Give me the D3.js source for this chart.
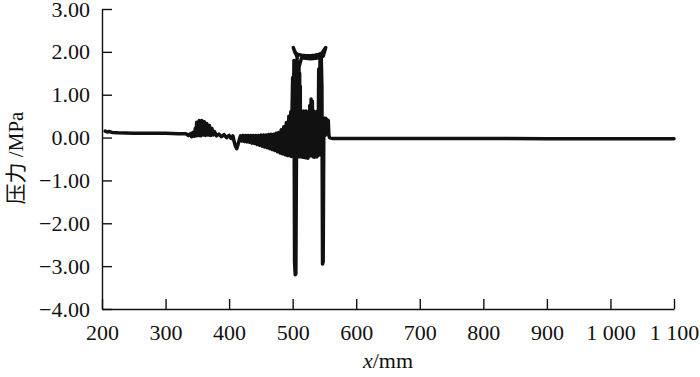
<!DOCTYPE html>
<html>
<head>
<meta charset="utf-8">
<script src="https://cdn.jsdelivr.net/npm/d3@7"></script>
<style>
  body { margin: 0; background: #fff; }
  svg text { font-family: "Liberation Serif", "Times New Roman", serif; fill: #111; }
</style>
</head>
<body>
<div id="chart"></div>
<script>
const width = 700, height = 377;
const serif = '"Liberation Serif", "Times New Roman", serif';

// x position (mm) and pressure (MPa)
const posMm = [
  205, 208, 212, 216, 225, 250, 275, 300, 320, 332,
  336, 339, 341, 343, 345, 347, 348, 349, 351, 353,
  355, 357, 359, 361, 363, 365, 367, 369, 371, 373,
  375, 377, 380, 384, 388, 392, 396, 400, 403, 406,
  408, 410, 412, 414, 416, 418, 420, 422, 424, 426,
  428, 430, 432, 434, 436, 438, 440, 442, 444, 446,
  448, 450, 452, 454, 456, 458, 460, 462, 464, 466,
  468, 470, 472, 474, 476, 478, 480, 482, 484, 486,
  488, 490, 492, 494, 496, 497, 498, 499, 500, 501,
  502, 503, 504, 505, 506, 507, 501, 504, 508, 514,
  521, 528, 535, 541, 546, 552, 548, 543, 536, 528,
  521, 514, 509, 508, 510, 509, 511, 511, 512, 512,
  513, 514, 515, 516, 517, 518, 519, 520, 521, 522,
  523, 524, 525, 526, 527, 528, 529, 530, 531, 532,
  533, 534, 535, 536, 537, 538, 539, 540, 541, 542,
  543, 544, 545, 546, 547, 548, 549, 550, 551, 552,
  553, 554, 555, 556, 557, 558, 562, 600, 700, 800,
  900, 1000, 1100
];
const pressure = [
  0.15, 0.13, 0.14, 0.12, 0.11, 0.10, 0.10, 0.10, 0.09, 0.09,
  0.05, 0.09, 0.02, 0.12, 0.03, 0.22, 0.04, 0.36, 0.05, 0.40,
  0.04, 0.40, 0.06, 0.37, 0.05, 0.33, 0.06, 0.28, 0.05, 0.21,
  0.06, 0.14, 0.04, 0.08, 0.02, 0.07, 0.00, 0.05, -0.02, 0.04,
  -0.10, -0.20, -0.26, -0.16, -0.05, 0.04, -0.08, 0.05, -0.09, 0.05,
  -0.10, 0.05, -0.11, 0.05, -0.13, 0.05, -0.14, 0.05, -0.16, 0.05,
  -0.18, 0.06, -0.20, 0.06, -0.22, 0.06, -0.24, 0.07, -0.26, 0.08,
  -0.28, 0.08, -0.30, 0.10, -0.33, 0.12, -0.36, 0.18, -0.38, 0.25,
  -0.40, 0.35, -0.42, 0.50, -0.42, 0.60, -0.44, 0.60, 1.40, -0.40,
  1.80, -2.90, -3.20, -3.18, -0.30, 1.88, 2.10, 1.97, 1.94, 1.92,
  1.91, 1.91, 1.92, 1.94, 1.97, 2.10, 1.90, 1.87, 1.85, 1.84,
  1.85, 1.86, 1.60, -0.42, 1.70, -0.45, 1.50, -0.44, 1.20, -0.45,
  0.60, -0.45, 0.60, -0.46, 0.62, -0.44, 0.60, -0.47, 0.62, -0.45,
  0.58, -0.48, 0.60, -0.44, 0.75, -0.42, 0.90, -0.40, 0.85, -0.45,
  0.62, -0.46, 0.60, -0.44, 0.60, -0.45, 0.62, -0.42, 1.60, -0.40,
  1.80, 0.50, 1.85, 1.20, -2.95, -2.90, 0.20, 0.45, 0.05, 0.45,
  0.08, 0.42, 0.10, 0.40, 0.05, 0.00, -0.02, -0.02, -0.02, -0.02,
  -0.03, -0.03, -0.03
];

const xTicks = [200, 300, 400, 500, 600, 700, 800, 900, 1000, 1100];
const xTickLabels = ["200", "300", "400", "500", "600", "700", "800", "900", "1 000", "1 100"];
const yTicks = [3, 2, 1, 0, -1, -2, -3, -4];

const svg = d3.select("#chart")
  .append("svg")
  .attr("width", width)
  .attr("height", height);

const x = d3.scaleLinear().domain([200, 1100]).range([102, 674]);
const y = d3.scaleLinear().domain([-4, 3]).range([309, 9]);

// axes, ticks pointing inward
svg.append("g")
  .attr("transform", `translate(0,${y(-4)})`)
  .call(d3.axisBottom(x)
    .tickValues(xTicks)
    .tickFormat((d, i) => xTickLabels[i])
    .tickSize(-10)
    .tickSizeOuter(0)
    .tickPadding(15));

svg.append("g")
  .attr("transform", `translate(${x(200)},0)`)
  .call(d3.axisLeft(y)
    .tickValues(yTicks)
    .tickFormat(d3.format(".2f"))
    .tickSize(-10)
    .tickSizeOuter(0)
    .tickPadding(12));

svg.selectAll("g").attr("font-family", serif).attr("font-size", 22);
svg.selectAll(".tick text")
  .style("font-size", "22px")
  .style("font-family", serif);
svg.selectAll(".domain, .tick line")
  .attr("stroke", "#111")
  .attr("stroke-width", 1.4);

const pts = posMm.map((d, i) => [d, pressure[i]]);

const line = d3.line()
  .x(d => x(d[0]))
  .y(d => y(d[1]));

svg.append("path")
  .datum(pts)
  .attr("fill", "none")
  .attr("stroke", "#111")
  .attr("stroke-width", 3.5)
  .attr("stroke-linejoin", "round")
  .attr("stroke-linecap", "round")
  .attr("d", line);

// axis titles
const yTitle = svg.append("text")
  .attr("transform", "translate(23,158) rotate(-90)")
  .attr("text-anchor", "middle")
  .style("font-size", "21px")
  .style("font-family", serif);
yTitle.append("tspan")
  .style("font-family", '"Noto Sans CJK SC", sans-serif')
  .text("压力");
yTitle.append("tspan").text(" /MPa");

const xTitle = svg.append("text")
  .attr("x", 388)
  .attr("y", 368)
  .attr("text-anchor", "middle")
  .style("font-size", "22px")
  .style("font-family", serif);
xTitle.append("tspan").style("font-style", "italic").text("x");
xTitle.append("tspan").text("/mm");
</script>
</body>
</html>
